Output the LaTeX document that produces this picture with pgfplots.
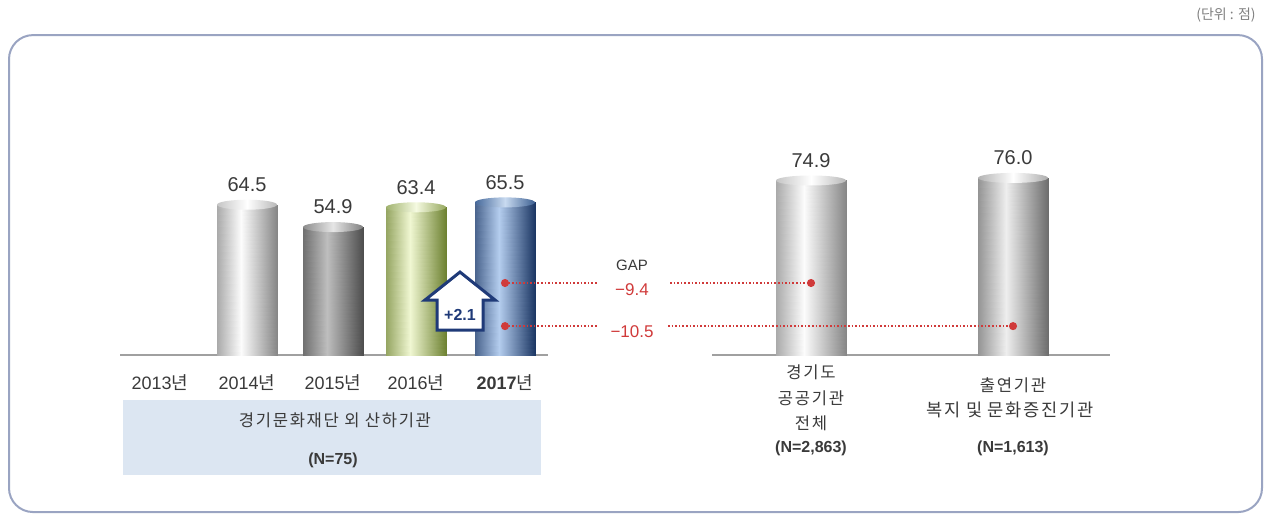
\documentclass[border=0pt]{standalone}
\usepackage{pgfplots}
\pgfplotsset{compat=1.18}
\usepgfplotslibrary{patchplots}
\usepackage{fontspec}
\setmainfont{Liberation Sans}
\newfontfamily\kr[LetterSpace=10]{Noto Sans CJK KR}
\newfontfamily\krtight{Noto Sans CJK KR}
\definecolor{txt}{HTML}{3A3A3A}
\definecolor{gapred}{HTML}{D03A3A}
\definecolor{navy}{HTML}{1F3A78}
\definecolor{boxblue}{HTML}{DCE6F2}
\definecolor{frame}{HTML}{9AA4C2}
\definecolor{axisgray}{HTML}{A0A0A0}
\pgfplotsset{
  colormap={cyllight}{rgb255(0cm)=(135,135,135); rgb255(1cm)=(252,252,252)},
  colormap={cyldark}{rgb255(0cm)=(78,78,78); rgb255(1cm)=(190,190,190)},
  colormap={cylgreen}{rgb255(0cm)=(110,130,50); rgb255(1cm)=(240,247,210)},
  colormap={cylblue}{rgb255(0cm)=(28,55,100); rgb255(1cm)=(180,205,238)},
  colormap={cylmid}{rgb255(0cm)=(110,110,110); rgb255(1cm)=(238,238,238)},
}
% bar geometry: x, y, c (c: 0 = edge shade, 1 = highlight)
\pgfplotstableread{
x y c
217 0 0.3
241 0 1
241 64.5 1
217 64.5 0.3
241 0 1
277 0 0
277 64.5 0
241 64.5 1
776 0 0.3
804 0 1
804 74.9 1
776 74.9 0.3
804 0 1
846 0 0
846 74.9 0
804 74.9 1
}\barslight
\pgfplotstableread{
x y c
303 0 0.3
327 0 1
327 54.9 1
303 54.9 0.3
327 0 1
363 0 0
363 54.9 0
327 54.9 1
}\barsdark
\pgfplotstableread{
x y c
386 0 0.3
410 0 1
410 63.4 1
386 63.4 0.3
410 0 1
446 0 0
446 63.4 0
410 63.4 1
}\barsgreen
\pgfplotstableread{
x y c
475 0 0.3
499 0 1
499 65.5 1
475 65.5 0.3
499 0 1
535 0 0
535 65.5 0
499 65.5 1
}\barsblue
\pgfplotstableread{
x y c
978 0 0.3
1006 0 1
1006 76.0 1
978 76.0 0.3
1006 0 1
1048 0 0
1048 76.0 0
1006 76.0 1
}\barsmid
\begin{document}
\begin{tikzpicture}
\begin{axis}[scale only axis, width=636.5pt, height=257.5pt,
  xmin=0, xmax=1273, ymin=-68.67, ymax=152.36, hide axis, clip=false,
  point meta min=0, point meta max=1]
% frame
\draw[frame, line width=1pt, rounded corners=12pt] (axis cs:9,137.3) rectangle (axis cs:1262,-67.4);
\node[font=\krtight\fontsize{7}{8}\selectfont, color=gray] at (axis cs:1226,145.9) {(단위 : 점)};
% label box
\fill[boxblue] (axis cs:123,-19.3) rectangle (axis cs:541,-51.5);
% base lines
\addplot[axisgray, line width=1.2pt, mark=none] coordinates {(120,0) (548,0)};
\addplot[axisgray, line width=1.2pt, mark=none] coordinates {(712,0) (1110,0)};
% bars (cylinders)
\addplot[patch, patch type=rectangle, shader=interp, colormap name=cyllight, point meta=explicit] table[x=x, y=y, meta=c] {\barslight};
\addplot[patch, patch type=rectangle, shader=interp, colormap name=cyldark, point meta=explicit] table[x=x, y=y, meta=c] {\barsdark};
\addplot[patch, patch type=rectangle, shader=interp, colormap name=cylgreen, point meta=explicit] table[x=x, y=y, meta=c] {\barsgreen};
\addplot[patch, patch type=rectangle, shader=interp, colormap name=cylblue, point meta=explicit] table[x=x, y=y, meta=c] {\barsblue};
\addplot[patch, patch type=rectangle, shader=interp, colormap name=cylmid, point meta=explicit] table[x=x, y=y, meta=c] {\barsmid};
% cylinder caps
\shade[left color=gray!45, right color=gray!55, middle color=white] (axis cs:247,64.5) ellipse [x radius=15pt, y radius=2.5pt];
\shade[left color=black!45, right color=black!50, middle color=black!10] (axis cs:333,54.9) ellipse [x radius=15pt, y radius=2.5pt];
\shade[left color={rgb,255:red,160;green,178;blue,110}, right color={rgb,255:red,150;green,168;blue,95}, middle color={rgb,255:red,245;green,250;blue,225}] (axis cs:416,63.4) ellipse [x radius=15pt, y radius=2.5pt];
\shade[left color={rgb,255:red,70;green,105;blue,155}, right color={rgb,255:red,60;green,95;blue,145}, middle color={rgb,255:red,200;green,218;blue,240}] (axis cs:505,65.5) ellipse [x radius=15pt, y radius=2.5pt];
\shade[left color=gray!45, right color=gray!55, middle color=white] (axis cs:811,74.9) ellipse [x radius=17.5pt, y radius=2.5pt];
\shade[left color=gray!60, right color=gray!65, middle color=white] (axis cs:1013,76.0) ellipse [x radius=17.5pt, y radius=2.5pt];
% value labels
\addplot[draw=none, mark=none, nodes near coords={\pgfmathprintnumber[fixed,precision=1,fixed zerofill,assume math mode=true]{\pgfplotspointmeta}}, point meta=y,
  every node near coord/.append style={font=\fontsize{10}{11}\selectfont, color=txt, yshift=3pt}]
  coordinates {(247,64.5) (333,54.9) (416,63.4) (505,65.5) (811,74.9) (1013,76.0)};
% gap lines
\addplot[gapred, densely dotted, line width=0.8pt, mark=*, mark size=1.6pt, mark indices={1}, mark options={solid}] coordinates {(505,30.9) (598,30.9)};
\addplot[gapred, densely dotted, line width=0.8pt, mark=*, mark size=1.6pt, mark indices={2}, mark options={solid}] coordinates {(670,30.9) (811,30.9)};
\addplot[gapred, densely dotted, line width=0.8pt, mark=*, mark size=1.6pt, mark indices={1}, mark options={solid}] coordinates {(505,12.4) (598,12.4)};
\addplot[gapred, densely dotted, line width=0.8pt, mark=*, mark size=1.6pt, mark indices={2}, mark options={solid}] coordinates {(668,12.4) (1013,12.4)};
\node[font=\fontsize{7.5}{8}\selectfont, color=txt] at (axis cs:632,38.6) {GAP};
\node[font=\fontsize{8.5}{9}\selectfont, color=gapred] at (axis cs:632,27.9) {−9.4};
\node[font=\fontsize{8.5}{9}\selectfont, color=gapred] at (axis cs:632,9.9) {−10.5};
% arrow
\draw[navy, line width=1.5pt, fill=white, line join=miter] (axis cs:460,35.6) -- (axis cs:495,23.6) -- (axis cs:483,23.6) -- (axis cs:483,10.7) -- (axis cs:437,10.7) -- (axis cs:437,23.6) -- (axis cs:425,23.6) -- cycle;
\node[font=\bfseries\fontsize{8}{9}\selectfont, color=navy] at (axis cs:460,17.2) {+2.1};
% year labels
\node[font=\fontsize{9}{10}\selectfont, color=txt] at (axis cs:160,-12.0) {2013{\krtight 년}};
\node[font=\fontsize{9}{10}\selectfont, color=txt] at (axis cs:247,-12.0) {2014{\krtight 년}};
\node[font=\fontsize{9}{10}\selectfont, color=txt] at (axis cs:333,-12.0) {2015{\krtight 년}};
\node[font=\fontsize{9}{10}\selectfont, color=txt] at (axis cs:416,-12.0) {2016{\krtight 년}};
\node[font=\fontsize{9}{10}\selectfont, color=txt] at (axis cs:505,-12.0) {\textbf{2017}{\krtight 년}};
\node[font=\kr\fontsize{8.3}{9}\selectfont, color=txt] at (axis cs:335,-27.9) {경기문화재단 외 산하기관};
\node[font=\bfseries\fontsize{8}{9}\selectfont, color=txt] at (axis cs:333,-45.1) {(N=75)};
% right labels
\node[font=\kr\fontsize{8.3}{9}\selectfont, color=txt] at (axis cs:811,-7.3) {경기도};
\node[font=\kr\fontsize{8.3}{9}\selectfont, color=txt] at (axis cs:811,-18.5) {공공기관};
\node[font=\kr\fontsize{8.3}{9}\selectfont, color=txt] at (axis cs:811,-29.2) {전체};
\node[font=\bfseries\fontsize{8}{9}\selectfont, color=txt] at (axis cs:811,-39.9) {(N=2,863)};
\node[font=\kr\fontsize{8.3}{9}\selectfont, color=txt] at (axis cs:1013,-12.9) {출연기관};
\node[font=\kr\fontsize{8.8}{9}\selectfont, color=txt] at (axis cs:1010,-23.6) {복지 및 문화증진기관};
\node[font=\bfseries\fontsize{8}{9}\selectfont, color=txt] at (axis cs:1013,-39.9) {(N=1,613)};
\path (axis cs:0,-68.67) rectangle (axis cs:1273,152.36);
\end{axis}
\end{tikzpicture}
\end{document}
